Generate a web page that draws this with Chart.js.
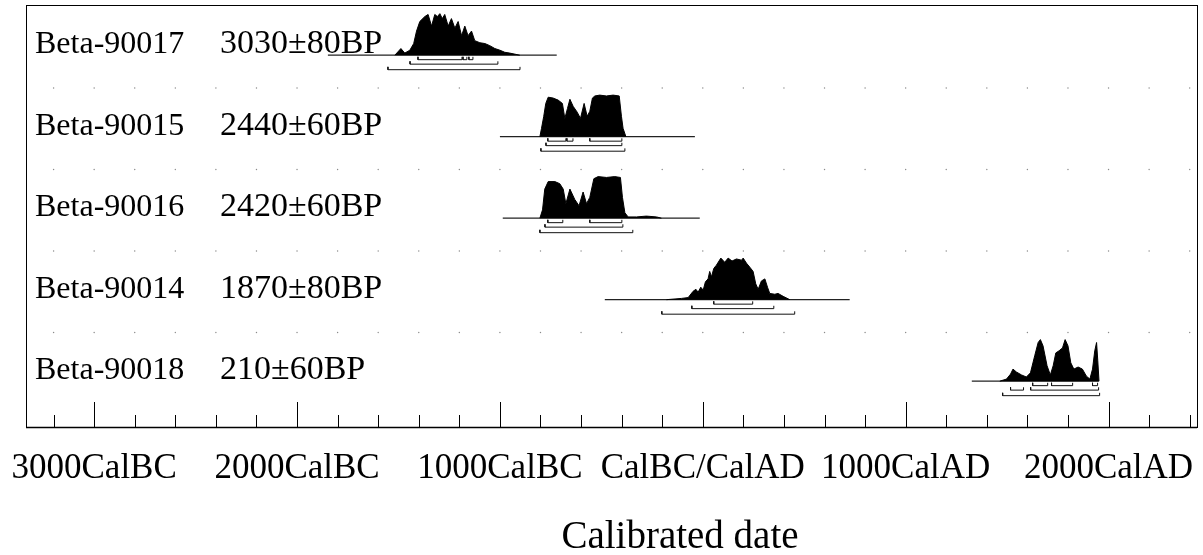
<!DOCTYPE html>
<html>
<head>
<meta charset="utf-8">
<script src="https://cdn.jsdelivr.net/npm/chart.js@4.4.1/dist/chart.umd.min.js"></script>
<style>
	body { margin: 0; background: #fff; }
	canvas { display: block; }
</style>
</head>
<body>
<canvas id="myChart" width="1203" height="555"></canvas>
<script>
// sample labels, top to bottom
const labCodes = ["Beta-90017", "Beta-90015", "Beta-90016", "Beta-90014", "Beta-90018"];
const bpDates = ["3030±80BP", "2440±60BP", "2420±60BP", "1870±80BP", "210±60BP"];

// probability curves (calendar year, relative height 0-100)
const years90017 = [-1518, -1488, -1469, -1444, -1425, -1411, -1395, -1370, -1354, -1337, -1321, -1308, -1296, -1284, -1272, -1255, -1239, -1222, -1206, -1189, -1173, -1157, -1140, -1124, -1099, -1074, -1050, -1025, -1000, -976, -951, -902];
const prob90017 = [0, 16, 5, 12, 28, 58, 81, 93, 98, 70, 98, 93, 100, 88, 98, 70, 88, 65, 81, 47, 70, 47, 58, 35, 30, 28, 23, 16, 12, 7, 5, 0];

const years90015 = [-803, -795, -784, -774, -762, -738, -713, -692, -680, -667, -655, -639, -619, -603, -585, -570, -557, -544, -532, -508, -475, -442, -412, -401, -393, -379];
const prob90015 = [0, 20, 49, 80, 95, 93, 88, 80, 44, 68, 90, 73, 59, 44, 80, 49, 61, 93, 98, 100, 98, 100, 98, 49, 20, 0];

const years90016 = [-803, -790, -779, -762, -729, -705, -688, -675, -655, -631, -610, -590, -573, -557, -537, -516, -475, -434, -406, -396, -384, -368, -327, -278, -228, -204];
const prob90016 = [0, 20, 70, 88, 88, 83, 70, 35, 70, 45, 30, 63, 35, 50, 95, 100, 98, 100, 98, 50, 13, 3, 3, 5, 3, 0];

const years90014 = [-179, -105, -72, -48, -34, -23, -10, 2, 13, 26, 34, 43, 54, 67, 89, 108, 125, 144, 166, 191, 199, 215, 232, 248, 261, 273, 289, 306, 319, 330, 355, 371, 396, 429];
const prob90014 = [0, 3, 5, 20, 25, 18, 30, 23, 43, 50, 68, 55, 75, 83, 100, 90, 100, 93, 98, 95, 100, 88, 78, 68, 38, 25, 45, 50, 30, 15, 13, 15, 8, 0];

const years90018 = [1464, 1497, 1517, 1529, 1546, 1571, 1595, 1615, 1636, 1653, 1664, 1677, 1697, 1713, 1727, 1740, 1756, 1773, 1786, 1800, 1814, 1829, 1850, 1871, 1891, 1908, 1921, 1932, 1941, 1947, 1953];
const prob90018 = [0, 5, 17, 29, 22, 15, 10, 20, 61, 93, 100, 85, 37, 15, 37, 68, 73, 80, 100, 85, 44, 29, 34, 29, 12, 5, 29, 73, 93, 49, 0];

// extent of each baseline
const baseSpans = [[-1848, -720], [-1000, -39], [-986, -15], [-483, 724], [1326, 1952]];

// 68.2%, 95.4% and 99.7% ranges
const range1s = [
	[[-1404, -1187], [-1182, -1163], [-1153, -1133]],
	[[-764, -675], [-670, -640], [-557, -399]],
	[[-764, -690], [-557, -399]],
	[[54, 246]],
	[[1626, 1700], [1719, 1823], [1921, 1946]],
];
const range2s = [
	[[-1443, -1010]],
	[[-773, -399]],
	[[-778, -394]],
	[[-54, 350]],
	[[1517, 1581], [1616, 1951]],
];
const range3s = [
	[[-1552, -901]],
	[[-798, -384]],
	[[-803, -345]],
	[[-202, 453]],
	[[1478, 1956]],
];

// axis
const tickLabels = ["3000CalBC", "2000CalBC", "1000CalBC", "CalBC/CalAD", "1000CalAD", "2000CalAD"];
const tickYears = [-3000, -2000, -1000, 0, 1000, 2000];
const axisTitle = "Calibrated date";

const allYears = [years90017, years90015, years90016, years90014, years90018];
const allProbs = [prob90017, prob90015, prob90016, prob90014, prob90018];

const BASE = 0.5975;
const PEAK = 0.51;
const FONT = "'Liberation Serif', 'Times New Roman', serif";

const datasets = [];

// row separator dots
const dots = [];
for (let k = 1; k <= 4; k++) {
	for (let yr = -3200; yr <= 2400; yr += 200) dots.push({ x: yr, y: k });
}
datasets.push({
	type: "scatter",
	data: dots,
	pointRadius: 0.7,
	pointBackgroundColor: "#8a8a8a",
	pointBorderWidth: 0,
	showLine: false,
});

allYears.forEach((yrs, i) => {
	const base = i + BASE;
	const probs = allProbs[i];
	datasets.push({
		data: yrs.map((x, j) => ({ x: x, y: base - (probs[j] / 100) * PEAK })),
		borderColor: "#000",
		borderWidth: 1,
		backgroundColor: "#000",
		fill: { value: base },
		pointRadius: 0,
		tension: 0,
	});
	datasets.push({
		data: baseSpans[i].map((x) => ({ x: x, y: base })),
		borderColor: "#222",
		borderWidth: 1.3,
		pointRadius: 0,
		fill: false,
	});
	[range1s[i], range2s[i], range3s[i]].forEach((ranges, lvl) => {
		const yb = base + [0.055, 0.11, 0.178][lvl];
		const pts = [];
		ranges.forEach((r) => {
			pts.push({ x: r[0], y: yb - 0.035 }, { x: r[0], y: yb }, { x: r[1], y: yb }, { x: r[1], y: yb - 0.035 }, { x: r[1], y: null });
		});
		datasets.push({
			data: pts,
			borderColor: "#111",
			borderWidth: 1,
			pointRadius: 0,
			spanGaps: false,
			fill: false,
		});
	});
});

const oxcalDecor = {
	id: "oxcalDecor",
	afterDraw(chart) {
		const c = chart.ctx;
		const xs = chart.scales.x;
		const ys = chart.scales.y;
		const { left, right, top, bottom } = chart.chartArea;
		c.save();
		// frame
		c.strokeStyle = "#000";
		c.lineWidth = 1;
		c.strokeRect(Math.round(left) + 0.5, Math.round(top) + 0.5, Math.round(right - left), Math.round(bottom - top));
		c.lineWidth = 1.5;
		c.beginPath();
		c.moveTo(left, Math.round(bottom) + 0.5);
		c.lineTo(right, Math.round(bottom) + 0.5);
		c.stroke();
		// ticks pointing up
		c.lineWidth = 1;
		for (let yr = -3200; yr <= 2400; yr += 200) {
			const px = Math.round(xs.getPixelForValue(yr)) + 0.5;
			const len = yr % 1000 === 0 ? 25 : 12;
			c.beginPath();
			c.moveTo(px, bottom);
			c.lineTo(px, bottom - len);
			c.stroke();
		}
		// tick labels
		c.fillStyle = "#000";
		c.textAlign = "center";
		c.textBaseline = "alphabetic";
		c.font = "35px " + FONT;
		tickYears.forEach((yr, i) => {
			c.fillText(tickLabels[i], xs.getPixelForValue(yr), 478);
		});
		c.font = "39px " + FONT;
		c.fillText(axisTitle, 680, 548);
		// sample labels
		c.textAlign = "left";
		labCodes.forEach((s, i) => {
			const yb = ys.getPixelForValue(i + BASE) - 2;
			c.font = "32px " + FONT;
			c.fillText(s, left + 9, yb);
			c.font = "34px " + FONT;
			c.fillText(bpDates[i], left + 194, yb);
		});
		c.restore();
	},
};

new Chart(document.getElementById("myChart"), {
	type: "line",
	data: { datasets: datasets },
	options: {
		responsive: false,
		animation: false,
		layout: { padding: { left: 26, right: 6, top: 5, bottom: 128 } },
		plugins: { legend: { display: false }, tooltip: { enabled: false } },
		scales: {
			x: { type: "linear", min: -3336, max: 2436, display: false },
			y: { type: "linear", min: -0.0184, max: 5.16, reverse: true, display: false },
		},
	},
	plugins: [oxcalDecor],
});
</script>
</body>
</html>
